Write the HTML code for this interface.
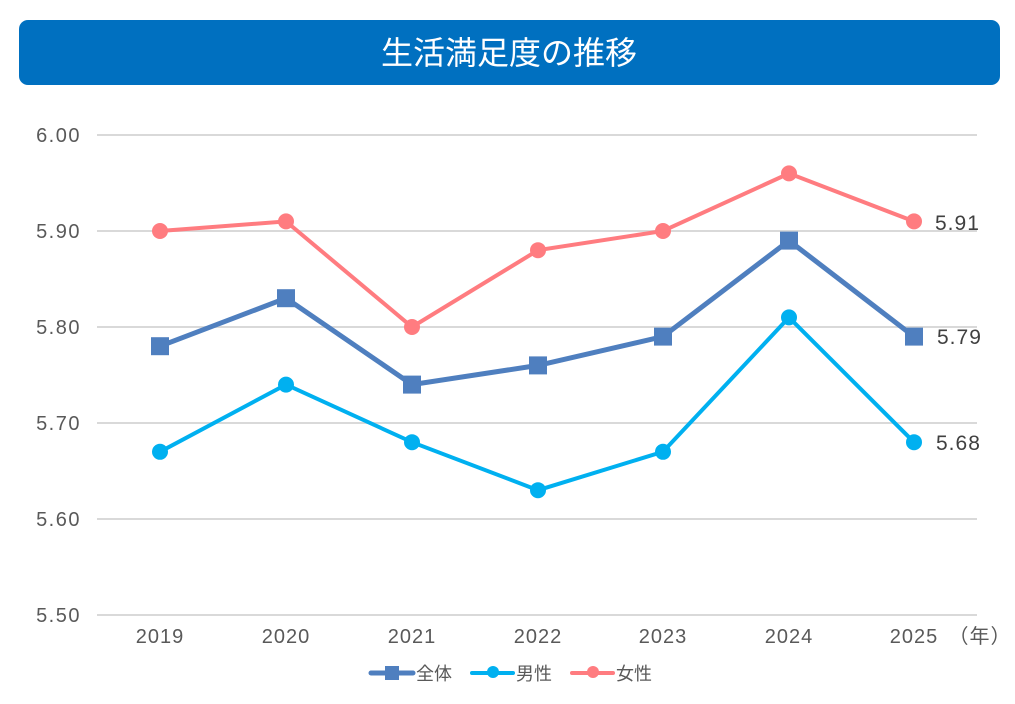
<!DOCTYPE html>
<html><head><meta charset="utf-8"><style>
body{margin:0;width:1015px;height:699px;background:#fff;overflow:hidden;font-family:"Liberation Sans","Noto Sans CJK JP",sans-serif;}
</style></head><body>
<svg width="1015" height="699" xmlns="http://www.w3.org/2000/svg" font-family="Liberation Sans, Noto Sans CJK JP, sans-serif">
<rect x="19" y="20" width="981" height="65" rx="9" fill="#0070c0"/>
<text x="509" y="64" text-anchor="middle" font-size="32" fill="#fff">生活満足度の推移</text>
<g stroke="#d9d9d9" stroke-width="2">
<line x1="97" x2="977" y1="135" y2="135"/><line x1="97" x2="977" y1="231" y2="231"/>
<line x1="97" x2="977" y1="327" y2="327"/><line x1="97" x2="977" y1="423" y2="423"/>
<line x1="97" x2="977" y1="519" y2="519"/><line x1="97" x2="977" y1="615" y2="615"/>
</g>
<g font-size="20" fill="#595959" text-anchor="end" letter-spacing="1.5">
<text x="81" y="142">6.00</text><text x="81" y="238">5.90</text><text x="81" y="334">5.80</text>
<text x="81" y="430">5.70</text><text x="81" y="526">5.60</text><text x="81" y="622">5.50</text>
</g>
<g font-size="20" fill="#595959" text-anchor="middle" letter-spacing="1">
<text x="160" y="643">2019</text><text x="286" y="643">2020</text><text x="412" y="643">2021</text>
<text x="538" y="643">2022</text><text x="663" y="643">2023</text><text x="789" y="643">2024</text>
<text x="914" y="643">2025</text><text x="980" y="643">（年）</text>
</g>
<polyline fill="none" stroke="#ff7c80" stroke-width="4" points="160,231 286,221.4 412,327 538,250.2 663,231 789,173.4 914,221.4"/>
<g fill="#ff7c80"><circle cx="160" cy="231" r="8"/><circle cx="286" cy="221.4" r="8"/><circle cx="412" cy="327" r="8"/><circle cx="538" cy="250.2" r="8"/><circle cx="663" cy="231" r="8"/><circle cx="789" cy="173.4" r="8"/><circle cx="914" cy="221.4" r="8"/></g>
<polyline fill="none" stroke="#4f7fbf" stroke-width="5" points="160,346.2 286,298.2 412,384.6 538,365.4 663,336.6 789,240.6 914,336.6"/>
<g fill="#4f7fbf"><rect x="151" y="337.2" width="18" height="18"/><rect x="277" y="289.2" width="18" height="18"/><rect x="403" y="375.6" width="18" height="18"/><rect x="529" y="356.4" width="18" height="18"/><rect x="654" y="327.6" width="18" height="18"/><rect x="780" y="231.6" width="18" height="18"/><rect x="905" y="327.6" width="18" height="18"/></g>
<polyline fill="none" stroke="#00b0f0" stroke-width="4" points="160,451.8 286,384.6 412,442.2 538,490.2 663,451.8 789,317.4 914,442.2"/>
<g fill="#00b0f0"><circle cx="160" cy="451.8" r="8"/><circle cx="286" cy="384.6" r="8"/><circle cx="412" cy="442.2" r="8"/><circle cx="538" cy="490.2" r="8"/><circle cx="663" cy="451.8" r="8"/><circle cx="789" cy="317.4" r="8"/><circle cx="914" cy="442.2" r="8"/></g>
<g font-size="21" fill="#404040" letter-spacing="1">
<text x="935" y="230">5.91</text><text x="937" y="344">5.79</text><text x="936" y="450">5.68</text>
</g>
<g font-size="18" fill="#595959">
<line x1="371" x2="413" y1="673" y2="673" stroke="#4f7fbf" stroke-width="5" stroke-linecap="round"/><rect x="385" y="666" width="14" height="14" fill="#4f7fbf"/>
<text x="416" y="680">全体</text>
<line x1="472" x2="513" y1="673" y2="673" stroke="#00b0f0" stroke-width="4" stroke-linecap="round"/><circle cx="493" cy="672" r="6" fill="#00b0f0"/>
<text x="516" y="680">男性</text>
<line x1="572" x2="613" y1="673" y2="673" stroke="#ff7c80" stroke-width="4" stroke-linecap="round"/><circle cx="593" cy="672" r="6" fill="#ff7c80"/>
<text x="616" y="680">女性</text>
</g>
</svg>
</body></html>
